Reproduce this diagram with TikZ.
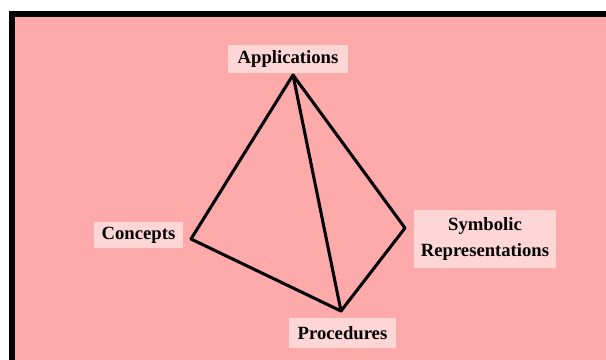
\documentclass[tikz,border=0pt]{standalone}
\usepackage{fontspec}
\setmainfont{Liberation Serif}
\definecolor{bgpink}{HTML}{FFAAAA}
\definecolor{labelpink}{HTML}{FFD6D6}
\begin{document}
\begin{tikzpicture}[x=0.75pt,y=-0.75pt,
  tag/.style={fill=labelpink, inner sep=0pt, minimum height=21pt,
    font=\fontsize{14}{19.5}\selectfont\bfseries, align=center},
  edge/.style={line width=2.3pt, line join=round, line cap=round}]
  \useasboundingbox (0,0) rectangle (606,360);
  % background panel with its heavy left and top rules
  \fill[bgpink] (12,14) rectangle (606,360);
  \fill[black] (9,11) rectangle (15,360);
  \fill[black] (9,11) rectangle (606,17);
  % corners of the tetrahedron
  \coordinate (app) at (293,75);
  \coordinate (con) at (191,239);
  \coordinate (sym) at (405,228);
  \coordinate (pro) at (341,311);
  \draw[edge] (app) -- (con);
  \draw[edge] (app) -- (sym);
  \draw[edge] (app) -- (pro);
  \draw[edge] (con) -- (pro);
  \draw[edge] (pro) -- (sym);
  % labels
  \node[tag, minimum width=90pt] (lapp) at (288,59) {Applications};
  \node[tag, minimum width=67pt, minimum height=19.5pt] (lcon) at (138.5,235) {Concepts};
  \node[tag, minimum width=106.5pt, minimum height=43.5pt] (lsym) at (485,239) {Symbolic\\Representations};
  \node[tag, minimum width=80pt, minimum height=22.5pt] (lpro) at (342.5,333) {Procedures};
\end{tikzpicture}
\end{document}
